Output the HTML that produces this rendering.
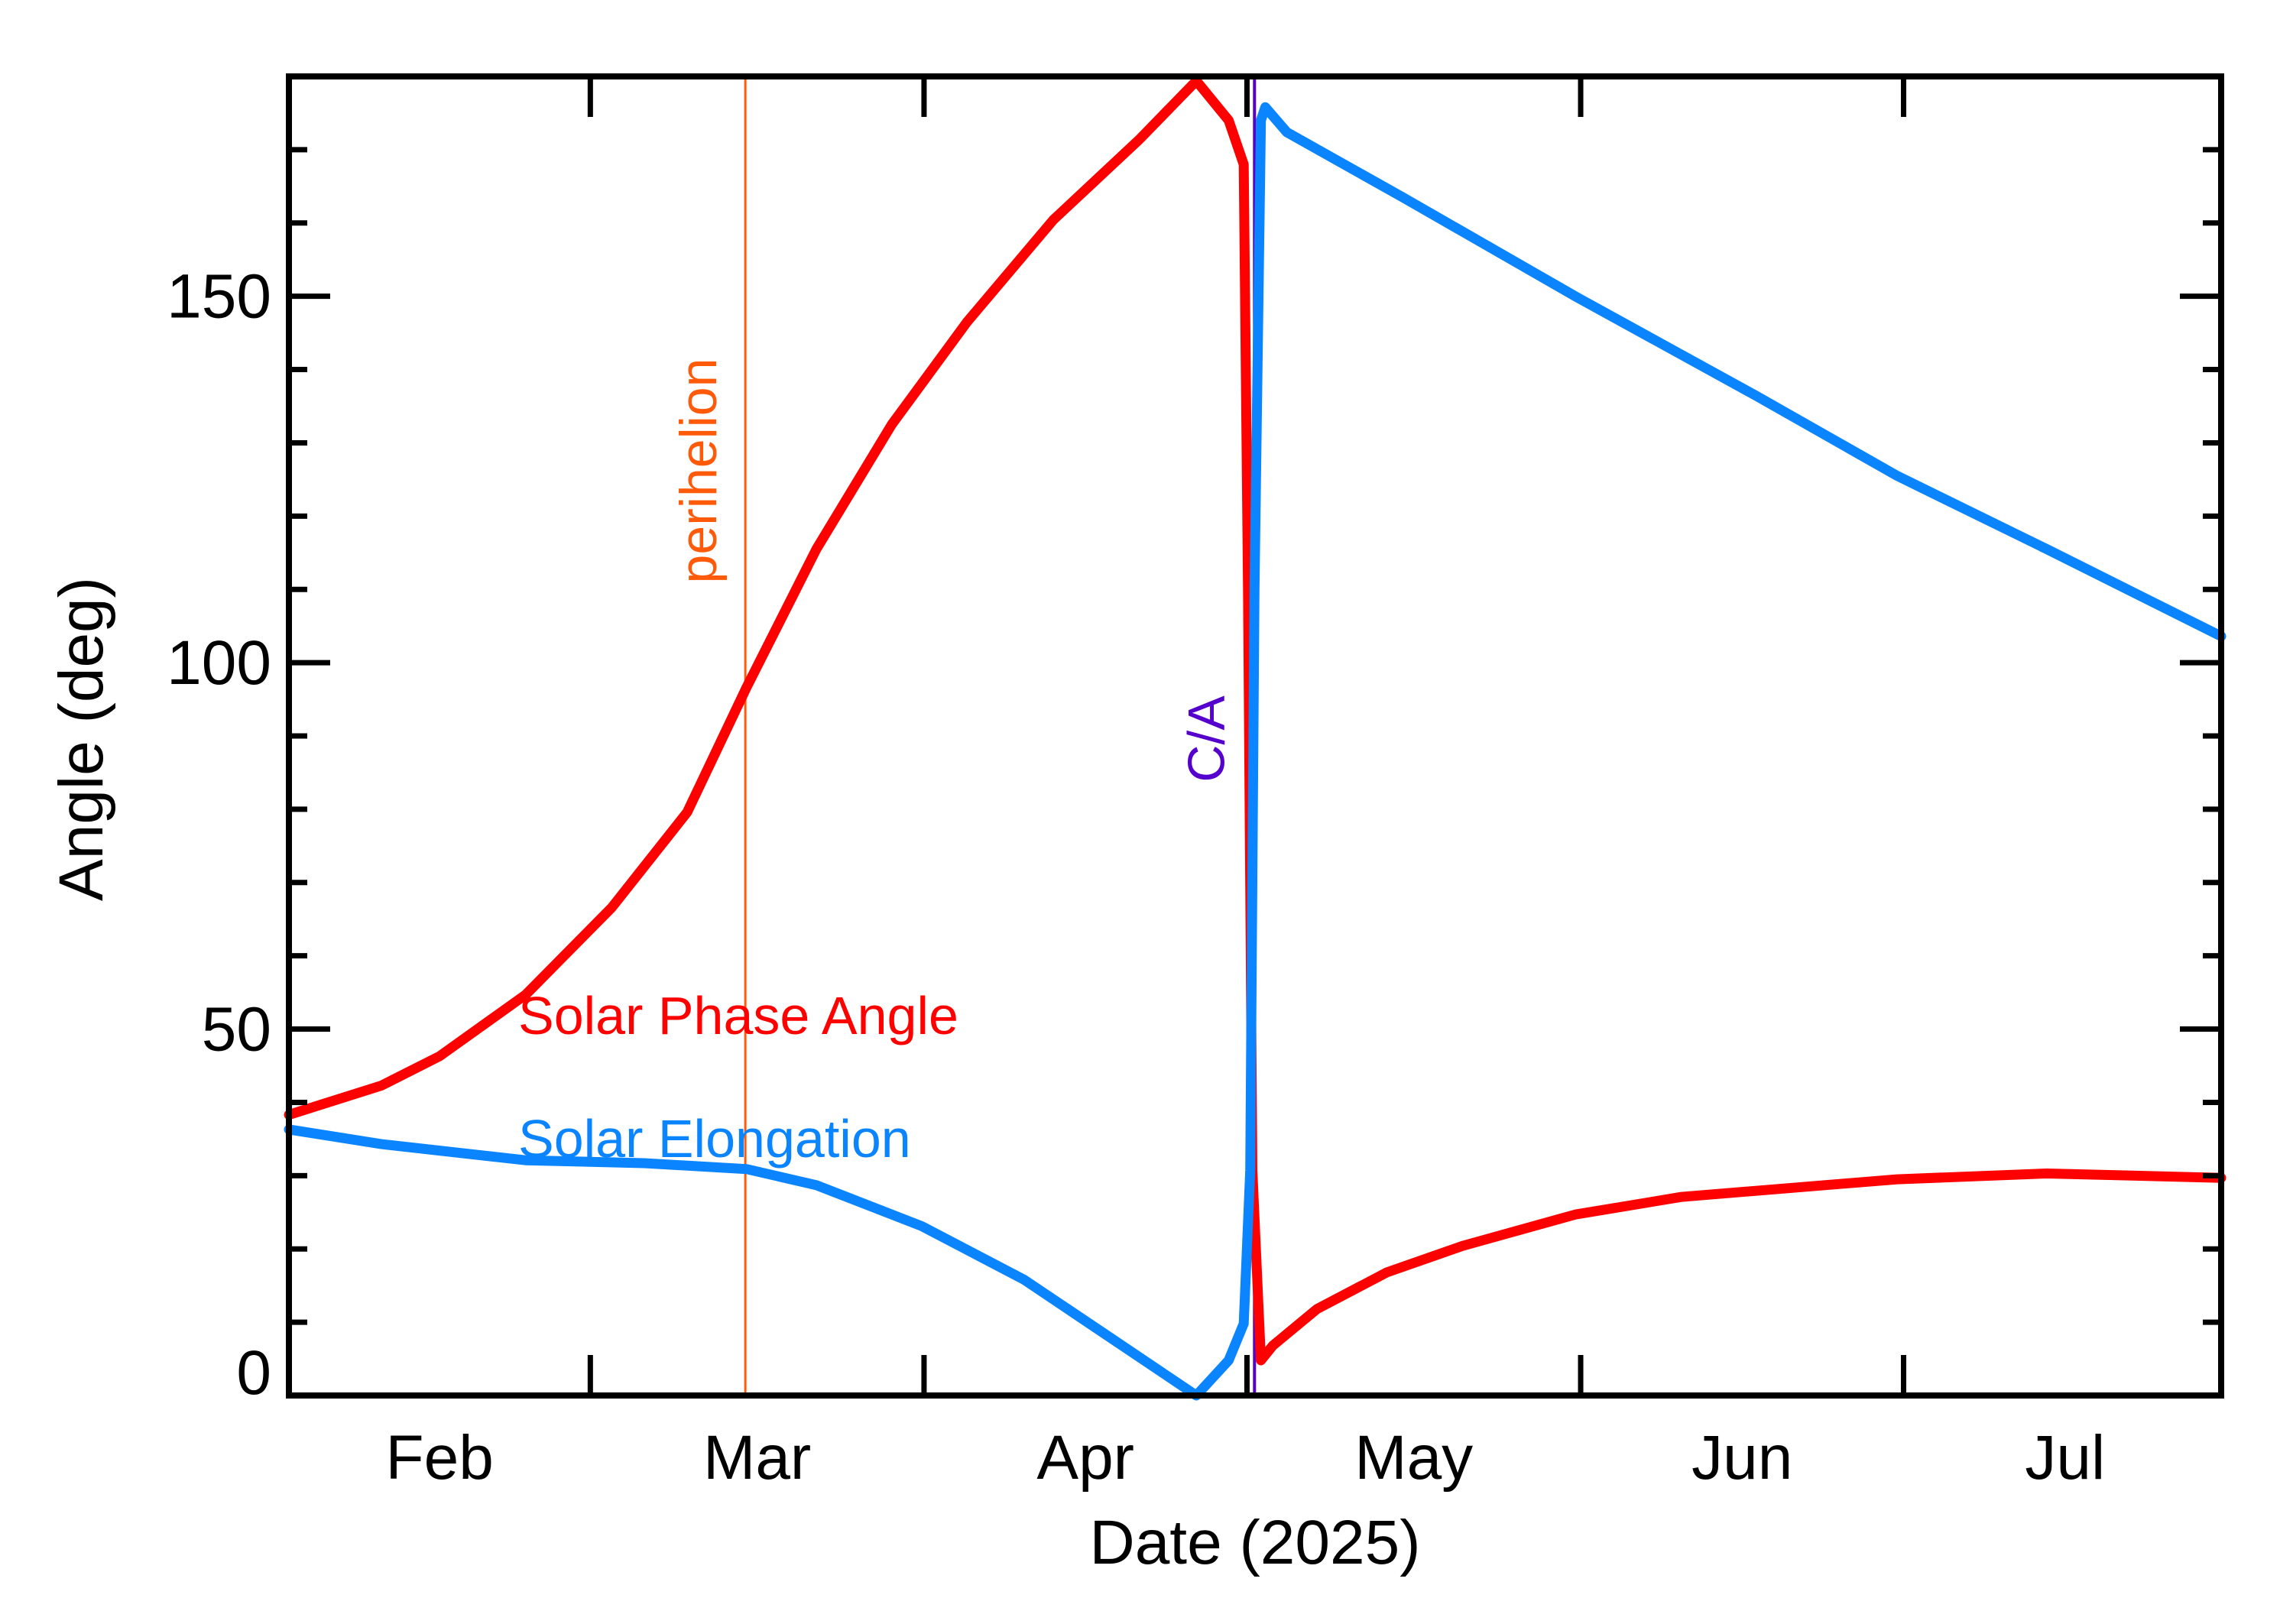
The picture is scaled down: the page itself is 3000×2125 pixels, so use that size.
<!DOCTYPE html>
<html><head><meta charset="utf-8"><style>
html,body{margin:0;padding:0;background:#fff;}
svg{display:block;font-family:"Liberation Sans",Arial,sans-serif;}
</style></head><body>
<svg id="chart" width="3000" height="2125" viewBox="0 0 3000 2125" xmlns="http://www.w3.org/2000/svg">
<rect x="0" y="0" width="3000" height="2125" fill="#fff"/>
<g id="series"></g>
<g id="axes"></g>
</svg>
<script>
// days since 2025-02-01
const phaseDays = [0, 8.6, 14, 22, 30, 37, 42.5, 49, 56, 63, 71, 79, 84.3, 87.3, 88.7, 89.1, 89.5, 90.3, 91.4, 95.5, 102, 109, 119.5, 129.4, 149.4, 163.3, 179.5];
const phaseVals = [38.3, 42.3, 46.3, 54.7, 66.6, 79.6, 96.6, 115.5, 132.5, 146.5, 160.4, 171.4, 179.4, 174, 168, 110, 30.7, 4.8, 6.8, 11.8, 16.8, 20.4, 24.7, 27.1, 29.5, 30.3, 29.7];
const elongDays = [0, 8.6, 22, 33, 42.5, 49, 58.8, 68.3, 76.4, 84.3, 87.3, 88.7, 89.3, 89.7, 90.3, 90.7, 92.7, 103.6, 119.5, 136.2, 149.4, 163.3, 179.5];
const elongVals = [36.3, 34.3, 32.1, 31.7, 30.9, 28.7, 23.1, 15.8, 7.8, 0, 4.8, 9.8, 30.7, 110, 174, 175.8, 172.4, 163.4, 150, 136.5, 125.5, 115.5, 103.6];
const monthTicks = [28, 59, 89, 120, 150];
const monthLabelDays = [14, 43.5, 74, 104.5, 135, 165];
const monthLabels = ["Feb", "Mar", "Apr", "May", "Jun", "Jul"];
const yMajor = [0, 50, 100, 150];
const perihelionDay = 42.4;
const closeApproachDay = 89.7;

const L=378,R=2906,T=100,B=1826, XMIN=0, XMAX=179.5, YMIN=0, YMAX=180;
const xs = d => L + (d-XMIN)/(XMAX-XMIN)*(R-L);
const ys = v => B - (v-YMIN)/(YMAX-YMIN)*(B-T);
const NS="http://www.w3.org/2000/svg";
function mk(tag, attrs, parent){const e=document.createElementNS(NS,tag);for(const k in attrs)e.setAttribute(k,attrs[k]);parent.appendChild(e);return e;}
const series=document.getElementById('series'), axes=document.getElementById('axes');

// vertical marker lines
let pl=mk('line',{x1:xs(perihelionDay),x2:xs(perihelionDay),y1:T,y2:B,stroke:'#ff5a0a','stroke-width':3},series);


let ca=mk('line',{x1:xs(closeApproachDay),x2:xs(closeApproachDay),y1:T,y2:B,stroke:'#5500cc','stroke-width':4},series);



function pathFrom(days, vals){return days.map((d,i)=>(i?'L':'M')+xs(d).toFixed(1)+' '+ys(vals[i]).toFixed(1)).join(' ');}
let red=mk('path',{d:pathFrom(phaseDays,phaseVals),fill:'none',stroke:'#ff0000','stroke-width':13,'stroke-linejoin':'round','stroke-linecap':'round'},series);


let blue=mk('path',{d:pathFrom(elongDays,elongVals),fill:'none',stroke:'#0a84ff','stroke-width':13,'stroke-linejoin':'round','stroke-linecap':'round'},series);



// labels
let t;
t=mk('text',{x:0,y:0,transform:`translate(${xs(perihelionDay)-38},616) rotate(-90)`,'text-anchor':'middle','font-size':68,fill:'#ff5a0a'},series);t.textContent='perihelion';


t=mk('text',{x:0,y:0,transform:`translate(${xs(closeApproachDay)-40},967) rotate(-90)`,'text-anchor':'middle','font-size':68,fill:'#5500cc'},series);t.textContent='C/A';


t=mk('text',{x:678,y:1353,'font-size':70,fill:'#ff0000'},series);t.textContent='Solar Phase Angle';


t=mk('text',{x:678,y:1514,'font-size':70,fill:'#0a84ff'},series);t.textContent='Solar Elongation';



// frame
let fr=mk('rect',{x:L,y:T,width:R-L,height:B-T,fill:'none',stroke:'#000','stroke-width':8},axes);


// x ticks
monthTicks.forEach(d=>{
  let a=mk('line',{x1:xs(d),x2:xs(d),y1:B,y2:B-53,stroke:'#000','stroke-width':7},axes);
  
  
  let b=mk('line',{x1:xs(d),x2:xs(d),y1:T,y2:T+53,stroke:'#000','stroke-width':7},axes);
  
  
});
monthLabelDays.forEach((d,i)=>{
  let a=mk('text',{x:xs(d),y:1935,'text-anchor':'middle','font-size':82,fill:'#000'},axes);a.textContent=monthLabels[i];
  
  
});
// y ticks
for(let v=10; v<YMAX; v+=10){
  const major = yMajor.includes(v);
  const len = major?54:24;
  let a=mk('line',{x1:L,x2:L+len,y1:ys(v),y2:ys(v),stroke:'#000','stroke-width':7},axes);
  
  
  let b=mk('line',{x1:R,x2:R-len,y1:ys(v),y2:ys(v),stroke:'#000','stroke-width':7},axes);
  
  
}
yMajor.forEach(v=>{
  let a=mk('text',{x:355,y:ys(v)+(v===0?-2:28),'text-anchor':'end','font-size':82,fill:'#000'},axes);a.textContent=String(v);
  
  
});
t=mk('text',{x:0,y:0,transform:'translate(134,967) rotate(-90)','text-anchor':'middle','font-size':82,fill:'#000'},axes);t.textContent='Angle (deg)';


t=mk('text',{x:1642,y:2046,'text-anchor':'middle','font-size':82,fill:'#000'},axes);t.textContent='Date (2025)';


</script>
</body></html>
